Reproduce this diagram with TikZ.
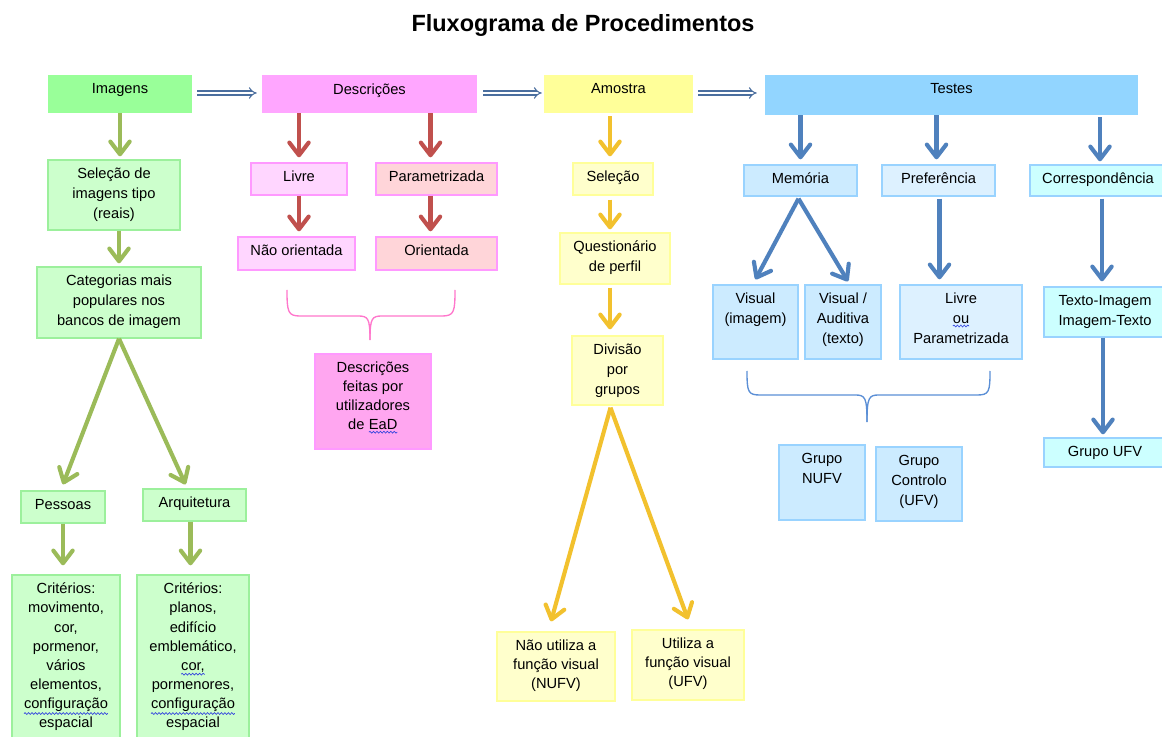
\documentclass[tikz,border=0pt]{standalone}
\usepackage{fontspec}
\setmainfont{Liberation Sans}
\usetikzlibrary{arrows.meta,fit,calc,decorations.pathmorphing}
\definecolor{ag}{HTML}{9BBB59}
\definecolor{ar}{HTML}{C0504D}
\definecolor{ay}{HTML}{F2C12E}
\definecolor{ab}{HTML}{4F81BD}
\definecolor{dab}{HTML}{4A6E9E}
\definecolor{tgreen}{HTML}{99FF99}
\definecolor{gfill}{HTML}{CCFFCC}
\definecolor{gbd}{HTML}{9CF09C}
\definecolor{tpink}{HTML}{FFA6FF}
\definecolor{lpfill}{HTML}{FFD6FF}
\definecolor{spfill}{HTML}{FFD5D9}
\definecolor{pbd}{HTML}{FF99FF}
\definecolor{dpfill}{HTML}{FFA6F0}
\definecolor{tyellow}{HTML}{FFFF99}
\definecolor{yfill}{HTML}{FFFFCC}
\definecolor{ybd}{HTML}{FFFF99}
\definecolor{tblue}{HTML}{92D5FF}
\definecolor{bfill}{HTML}{CCEBFF}
\definecolor{lbfill}{HTML}{DDF1FF}
\definecolor{cfill}{HTML}{CCFFFF}
\definecolor{bbd}{HTML}{99D3FF}
\definecolor{pbrace}{HTML}{FF77CC}
\definecolor{bbrace}{HTML}{5B8FD6}
\definecolor{sqblue}{HTML}{3344DD}
\newcommand\sq[1]{\tikz[baseline=(sqw.base),x=1pt,y=1pt]{\node[inner sep=0pt,outer sep=0pt,anchor=base,draw=none,fill=none] (sqw) at (0,0) {#1};\draw[sqblue,line width=0.5pt,decorate,decoration={snake,amplitude=0.7pt,segment length=2.6pt}] ([yshift=-1.6pt]sqw.south west) -- ([yshift=-1.6pt]sqw.south east);}}
\newcommand\bx[8][txt]{%
  \node[#7, fit={(#3,#4) (#5,#6)}, inner sep=0pt] (#2) {};
  \node[#1, anchor=north] (#2-t) at ($(#2.north)+(0,8.5)$) {#8};
}
\begin{document}
\begin{tikzpicture}[x=0.75pt,y=-0.75pt,
  txt/.style={align=center, inner sep=0pt, font=\fontsize{11}{15}\selectfont},
  txtc/.style={align=center, inner sep=0pt, font=\fontsize{11}{14.3}\selectfont},
  topgreen/.style={fill=tgreen, draw=none},
  toppink/.style={fill=tpink, draw=none},
  topyellow/.style={fill=tyellow, draw=none},
  topblue/.style={fill=tblue, draw=none},
  gbox/.style={fill=gfill, draw=gbd, line width=1pt},
  lpbox/.style={fill=lpfill, draw=pbd, line width=1pt},
  spbox/.style={fill=spfill, draw=pbd, line width=1pt},
  dpbox/.style={fill=dpfill, draw=pbd, line width=1pt},
  ybox/.style={fill=yfill, draw=ybd, line width=1pt},
  bluebox/.style={fill=bfill, draw=bbd, line width=1pt},
  lbbox/.style={fill=lbfill, draw=bbd, line width=1pt},
  cbox/.style={fill=cfill, draw=bbd, line width=1pt},
  arr/.style={line width=3.1pt, -{Straight Barb[length=9.5pt,width=14.5pt,round]}},
  garr/.style={arr, draw=ag},
  rarr/.style={arr, draw=ar},
  yarr/.style={arr, draw=ay},
  barr/.style={arr, draw=ab},
  darr/.style={draw=dab, double=white, double distance=2.2pt, line width=0.8pt, -{Implies}},
  brace/.style={line width=1pt},
]
\useasboundingbox (0,0) rectangle (1162,737);
\fill[white] (0,0) rectangle (1162,737);

\node[font=\fontsize{17.6}{21}\selectfont\bfseries] (title) at (583,25) {Fluxograma de Procedimentos};

% top row
\bx{img}{48}{75}{192}{113}{topgreen}{Imagens}
\bx{desc}{262}{75}{477}{113}{toppink}{Descrições}
\bx{amo}{544}{75}{693}{113}{topyellow}{Amostra}
\bx{tes}{765}{75}{1138}{115}{topblue}{Testes}

% Imagens column
\bx{sel}{48}{160}{180}{230}{gbox}{Seleção de\\imagens tipo\\(reais)}
\bx{cat}{37}{267}{201}{338}{gbox}{Categorias mais\\populares nos\\bancos de imagem}
\bx{pes}{21}{491}{105}{523}{gbox}{Pessoas}
\bx{arq}{143}{489}{246}{521}{gbox}{Arquitetura}
\bx[txtc]{cri1}{12}{575}{120}{745}{gbox}{Critérios:\\movimento,\\cor,\\pormenor,\\vários\\elementos,\\\sq{configuração}\\espacial}
\bx[txtc]{cri2}{137}{575}{249}{745}{gbox}{Critérios:\\planos,\\edifício\\emblemático,\\\sq{cor,}\\pormenores,\\\sq{configuração}\\espacial}

% Descricoes column
\bx{liv}{251}{163}{347}{195}{lpbox}{Livre}
\bx{par}{376}{163}{497}{195}{spbox}{Parametrizada}
\bx{nao}{238}{237}{355}{270}{lpbox}{Não orientada}
\bx{ori}{376}{237}{497}{270}{spbox}{Orientada}
\bx[txtc]{dfe}{315}{354}{431}{449}{dpbox}{Descrições\\feitas por\\utilizadores\\de \sq{EaD}}

% Amostra column
\bx{sel2}{573}{163}{653}{195}{ybox}{Seleção}
\bx{que}{560}{233}{670}{284}{ybox}{Questionário\\de perfil}
\bx{div}{572}{336}{663}{405}{ybox}{Divisão\\por\\grupos}
\bx[txtc]{nufv}{497}{632}{615}{701}{ybox}{Não utiliza a\\função visual\\(NUFV)}
\bx[txtc]{ufv}{632}{630}{744}{700}{ybox}{Utiliza a\\função visual\\(UFV)}

% Testes column
\bx{mem}{744}{165}{857}{196}{bluebox}{Memória}
\bx{pre}{882}{165}{995}{196}{lbbox}{Preferência}
\bx{cor}{1030}{165}{1166}{196}{cbox}{Correspondência}
\bx{vis}{713}{285}{798}{359}{bluebox}{Visual\\(imagem)}
\bx{aud}{805}{285}{881}{359}{bluebox}{Visual /\\Auditiva\\(texto)}
\bx{lou}{900}{285}{1022}{359}{lbbox}{Livre\\\sq{ou}\\Parametrizada}
\bx{tim}{1044}{287}{1166}{337}{cbox}{Texto-Imagem\\Imagem-Texto}
\bx{guf}{1044}{438}{1166}{467}{cbox}{Grupo UFV}
\bx{gnu}{779}{445}{865}{520}{bluebox}{Grupo\\NUFV}
\bx{gco}{876}{447}{962}{521}{bluebox}{Grupo\\Controlo\\(UFV)}

% double arrows
\draw[darr] ($(img.east)+(5,-1)$) -- ($(img.east -| desc.west)+(-5,-1)$);
\draw[darr] ($(desc.east)+(6,-1)$) -- ($(desc.east -| amo.west)+(-2,-1)$);
\draw[darr] ($(amo.east)+(5,-1)$) -- ($(amo.east -| tes.west)+(-8,-1)$);

% green arrows
\draw[garr] (img.south) -- ($(img.south |- sel.north)+(0,-3)$);
\draw[garr] (cat.north |- sel.south) -- ($(cat.north)+(0,-3)$);
\draw[garr] (cat.south) -- ($(pes.north)+(0,-6)$);
\draw[garr] (cat.south) -- ($(arq.north)+(-9,-4)$);
\draw[garr] (pes.south) -- ($(pes.south |- cri1.north)+(0,-9)$);
\draw[garr] ($(arq.south)+(-4,0)$) -- ($(arq.south |- cri1.north)+(-4,-9)$);

% red arrows
\draw[rarr] (liv.north |- desc.south) -- ($(liv.north)+(0,-5)$);
\draw[rarr] ($(par.north |- desc.south)+(-6,0)$) -- ($(par.north)+(-6,-5)$);
\draw[rarr] (liv.south) -- ($(liv.south |- nao.north)+(0,-5)$);
\draw[rarr] ($(par.south)+(-6,0)$) -- ($(par.south |- ori.north)+(-6,-5)$);

% yellow arrows
\draw[yarr] ($(sel2.north |- amo.south)+(-3,3)$) -- ($(sel2.north)+(-3,-6)$);
\draw[yarr] ($(sel2.south)+(-3,4)$) -- ($(sel2.south |- que.north)+(-3,-3)$);
\draw[yarr] ($(que.south)+(-5,3)$) -- ($(que.south |- div.north)+(-5,-6)$);
\draw[yarr] ($(div.south)+(-7,2)$) -- ($(nufv.north)+(-5,-10)$);
\draw[yarr] ($(div.south)+(-7,2)$) -- ($(ufv.north)+(0,-10)$);

% blue arrows
\draw[barr] (mem.north |- tes.south) -- ($(mem.north)+(0,-5)$);
\draw[barr] ($(pre.north |- tes.south)+(-2,0)$) -- ($(pre.north)+(-2,-5)$);
\draw[barr] ($(cor.north |- tes.south)+(2,2)$) -- ($(cor.north)+(2,-3)$);
\draw[barr] ($(mem.south)+(-2,2)$) -- ($(vis.north)+(0,-5)$);
\draw[barr] ($(mem.south)+(-2,2)$) -- ($(aud.north)+(5,-3)$);
\draw[barr] ($(pre.south)+(1,2)$) -- ($(pre.south |- lou.north)+(1,-5)$);
\draw[barr] ($(cor.south)+(4,2)$) -- ($(cor.south |- tim.north)+(4,-5)$);
\draw[barr] ($(tim.south)+(-2,0)$) -- ($(tim.south |- guf.north)+(-2,-3)$);

% braces
\draw[brace, draw=pbrace] (287,290) .. controls (287,312) and (288,316) .. (300,316) -- (358,316) .. controls (368,316) and (370,318) .. (370,340);
\draw[brace, draw=pbrace] (455,290) .. controls (455,312) and (454,316) .. (442,316) -- (382,316) .. controls (372,316) and (370,318) .. (370,340);
\draw[brace, draw=bbrace] (747,371) .. controls (747,392) and (748,395) .. (760,395) -- (855,395) .. controls (865,395) and (867,397) .. (867,422);
\draw[brace, draw=bbrace] (990,371) .. controls (990,392) and (989,395) .. (977,395) -- (879,395) .. controls (869,395) and (867,397) .. (867,422);
\end{tikzpicture}
\end{document}
